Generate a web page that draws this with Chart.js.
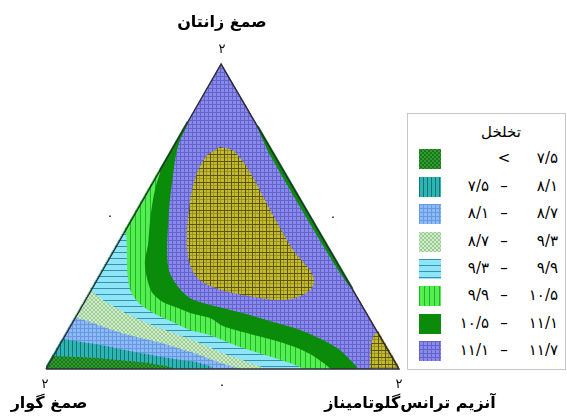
<!DOCTYPE html>
<html><head><meta charset="utf-8">
<script src="https://cdn.jsdelivr.net/npm/chart.js@4.4.1/dist/chart.umd.min.js"></script>
<style>
html,body{margin:0;padding:0;background:#fff;}
#wrap{position:relative;width:567px;height:419px;overflow:hidden;font-family:"DejaVu Sans",sans-serif;color:#000;}
#c{position:absolute;left:0;top:0;}
.lbl{position:absolute;white-space:nowrap;transform:translate(-50%,-50%);line-height:1;}
.ax{font-weight:bold;font-size:16px;}
.tk{font-size:13px;}
#legend{position:absolute;left:407px;top:113px;width:157px;height:255px;border:1px solid #c8c8c8;background:#fff;}
#legend .ttl{position:absolute;left:93px;top:18px;transform:translate(-50%,-50%);font-size:15px;white-space:nowrap;}
#legend .sw{position:absolute;left:11px;width:22px;height:20px;}
#legend .t{position:absolute;font-size:15px;white-space:nowrap;direction:ltr;unicode-bidi:isolate;line-height:1;}
</style></head>
<body>
<div id="wrap">
<canvas id="c" width="567" height="419"></canvas>
<div id="labels"></div>
<div id="legend"></div>
</div>
<script>
// ---------- data (plot units: x = % of base, y = % of height) ----------
const triangle = [[0,0],[100,0],[49.6,100]];
const levelNames = ['<7.5','7.5-8.1','8.1-8.7','8.7-9.3','9.3-9.9','9.9-10.5','10.5-11.1','11.1-11.7'];
// contour lines (left edge -> base)
const c75  = [[2.0,4.3],[9.6,3.9],[17.3,3.3],[26.6,2.3],[32.3,1.3],[36.5,0]];
const c81  = [[4.8,9.8],[9.6,8.9],[17.3,7.5],[23.8,5.9],[31.4,4.3],[38.0,3.0],[43.6,2.0],[47.9,0]];
const c87  = [[8.2,16.7],[12.5,15.4],[17.3,13.4],[23.8,11.1],[31.4,8.9],[38.0,6.6],[43.6,4.6],[47.9,2.6],[52.1,1.0],[55.0,0]];
const c93  = [[12.7,25.6],[15.3,23.3],[17.3,21.6],[21.0,19.3],[26.6,16.1],[33.7,12.8],[40.8,9.8],[43.6,8.5],[50.1,5.2],[56.4,2.6],[62.0,0.3],[63.5,0]];
const c99  = [[22.4,44.9],[22.9,40.0],[22.9,35.1],[23.2,29.8],[24.1,25.2],[26.6,21.3],[31.4,17.7],[36.5,15.1],[40.8,12.8],[46.5,11.1],[55.0,7.2],[62.0,4.6],[69.1,2.0],[72.8,0]];
const c105 = [[32.3,65.2],[31.2,60.3],[30.3,55.4],[29.5,48.9],[28.9,40.7],[28.0,35.1],[28.6,29.8],[30.0,25.2],[33.1,22.0],[37.4,20.0],[40.8,18.4],[46.5,16.7],[50.1,14.1],[57.8,11.5],[64.3,9.5],[70.5,7.2],[74.8,4.9],[78.2,2.3],[80.5,0]];
const c111 = [[40.2,81.0],[38.0,75.1],[36.8,70.2],[36.0,63.6],[35.1,55.4],[34.6,47.2],[34.3,39.0],[34.8,32.5],[37.1,27.5],[40.8,23.3],[46.5,21.0],[50.1,20.0],[57.8,17.7],[64.3,15.4],[72.0,12.8],[78.5,9.5],[83.3,6.2],[86.1,3.0],[88.4,0]];
// closed regions
const oliveBlob = [[49.3,72.8],[52.7,71.8],[55.0,69.2],[56.9,66.2],[59.5,61.0],[62.0,55.4],[64.6,49.8],[67.1,44.6],[70.0,39.0],[72.8,35.1],[75.1,31.8],[75.9,28.5],[74.8,25.9],[71.4,23.6],[67.1,22.6],[60.6,23.3],[53.0,24.9],[47.3,26.9],[43.6,29.2],[41.4,32.5],[40.2,37.4],[39.9,43.9],[40.5,52.1],[41.4,58.7],[43.1,65.2],[45.6,70.2]];
const oliveCorner = [[94.6,12.8],[103,-3],[92.2,-3],[91.8,3.6],[92.1,7.9],[92.8,11.0]];
const rightStrip = [[59.8,79.7],[60.4,77.7],[63.1,70.8],[70.0,57.0],[78.3,40.7],[82.7,32.5],[85.7,27.5],[86.8,26.4],[89,26.4],[62.5,80.5]];
// legend text
const legendTitle = 'تخلخل';
const legendLow  = ['', '۷/۵', '۸/۱', '۸/۷', '۹/۳', '۹/۹', '۱۰/۵', '۱۱/۱'];
const legendMid  = ['<', '–', '–', '–', '–', '–', '–', '–'];
const legendHigh = ['۷/۵', '۸/۱', '۸/۷', '۹/۳', '۹/۹', '۱۰/۵', '۱۱/۱', '۱۱/۷'];
const axisNames = ['صمغ زانتان', 'صمغ گوار', 'آنزیم ترانس\u200cگلوتامیناز'];
const cornerTick = '۲', midTick = '۰';

// ---------- styles ----------
const patSpecs = [
  {kind:'x', size:4, base:'#2f9c2f', line:'#1c761c'},      // <7.5
  {kind:'v', size:4, base:'#2fb4b4', line:'#127474'},      // 7.5-8.1
  {kind:'grid', size:4, base:'#8cbaf6', line:'#6a98e0'},   // 8.1-8.7
  {kind:'x', size:4, base:'#d2ecca', line:'#9ccc98'},      // 8.7-9.3
  {kind:'h', size:6, base:'#8ce6f6', line:'#3a8eb0'},      // 9.3-9.9
  {kind:'v', size:5, base:'#52ee52', line:'#22b422'},      // 9.9-10.5
  {kind:'solid', size:4, base:'#0a8c0a', line:'#0a8c0a'},  // 10.5-11.1
  {kind:'grid', size:4, base:'#8a8aee', line:'#6464c8'},   // 11.1-11.7
  {kind:'plaid', size:7, base:'#c4bc2c', line:'#5c5412', line2:'#9a9222'} // >11.7
];
const mainCtx = document.getElementById('c').getContext('2d');
function makePattern(spec, ctx){
  const s = spec.size, c = document.createElement('canvas');
  c.width = s; c.height = s;
  const g = c.getContext('2d');
  g.fillStyle = spec.base; g.fillRect(0,0,s,s);
  g.fillStyle = spec.line;
  if (spec.kind==='grid'){ g.fillRect(0,0,s,1); g.fillRect(0,0,1,s); }
  if (spec.kind==='v'){ g.fillRect(0,0,1,s); }
  if (spec.kind==='h'){ g.fillRect(0,0,s,1); }
  if (spec.kind==='x'){ for(let i=0;i<s;i++){ g.fillRect(i,i,1,1); g.fillRect(s-1-i,i,1,1);} }
  if (spec.kind==='plaid'){
    g.fillStyle = spec.line2; g.fillRect(0,3,s,1); g.fillRect(3,0,1,s);
    g.fillStyle = spec.line; g.fillRect(0,0,s,1); g.fillRect(0,0,1,s);
  }
  return ctx.createPattern(c,'repeat');
}
const pats = patSpecs.map(p => makePattern(p, mainCtx));

// ---------- regions ----------
function lowerRegion(curve){
  const s = curve[0], e = curve[curve.length-1];
  return [[-30,-10],[-30, s[1]],[s[0]-2, s[1]], ...curve, [e[0], -2], [e[0], -10]];
}
function ds(points, bg, order, tension){
  return {data: points.map(p => ({x:p[0], y:p[1]})), showLine:true, fill:'shape', tension,
    backgroundColor:bg, borderColor:'rgba(0,0,0,0)', borderWidth:0, pointRadius:0, order};
}
const datasets = [
  {data:[...triangle, triangle[0]].map(p=>({x:p[0],y:p[1]})), showLine:true, fill:false,
   borderColor:'#2d2d3a', borderWidth:1.5, pointRadius:0, order:0, clip:false, tension:0},
  ds(lowerRegion(c75),  pats[0], 1, 0.3),
  ds(lowerRegion(c81),  pats[1], 2, 0.3),
  ds(lowerRegion(c87),  pats[2], 3, 0.3),
  ds(lowerRegion(c93),  pats[3], 4, 0.3),
  ds(lowerRegion(c99),  pats[4], 5, 0.3),
  ds(lowerRegion(c105), pats[5], 6, 0.3),
  ds(lowerRegion(c111), pats[6], 7, 0.3),
  ds(rightStrip, pats[6], 8, 0),
  ds(oliveCorner, pats[8], 9, 0.2),
  ds(oliveBlob, pats[8], 10, 0.35),
  ds(triangle, pats[7], 11, 0)
];

const triClip = {
  id:'triClip',
  beforeDatasetsDraw(chart){
    const {ctx, scales:{x, y}} = chart;
    const pts = triangle.map(p => [x.getPixelForValue(p[0]), y.getPixelForValue(p[1])]);
    const cx = (pts[0][0]+pts[1][0]+pts[2][0])/3, cy = (pts[0][1]+pts[1][1]+pts[2][1])/3;
    ctx.save(); ctx.beginPath();
    pts.forEach((p,i) => { const px = cx+(p[0]-cx)*1.012, py = cy+(p[1]-cy)*1.012; if(i) ctx.lineTo(px,py); else ctx.moveTo(px,py); });
    ctx.closePath(); ctx.clip();
  },
  afterDatasetsDraw(chart){ chart.ctx.restore(); }
};

new Chart(mainCtx, {
  type:'scatter',
  data:{datasets},
  options:{
    responsive:false, animation:false, devicePixelRatio:1,
    layout:{padding:{left:46, top:64, right:168, bottom:50}},
    scales:{
      x:{type:'linear', min:0, max:100, display:false},
      y:{type:'linear', min:0, max:100, display:false}
    },
    elements:{line:{capBezierPoints:false}, point:{radius:0}},
    plugins:{legend:{display:false}, tooltip:{enabled:false}}
  },
  plugins:[triClip]
});

// ---------- text labels ----------
const labels = document.getElementById('labels');
function addLabel(text, x, y, cls, rtl){
  const d = document.createElement('div');
  d.className = 'lbl ' + cls; d.textContent = text;
  if (rtl) d.dir = 'rtl';
  d.style.left = x + 'px'; d.style.top = y + 'px';
  labels.appendChild(d);
}
addLabel(axisNames[0], 222, 22, 'ax', true);
addLabel(cornerTick, 222, 48, 'tk');
addLabel(midTick, 110, 215, 'tk');
addLabel(midTick, 333, 216, 'tk');
addLabel(midTick, 222, 384, 'tk');
addLabel(cornerTick, 45, 383, 'tk');
addLabel(cornerTick, 399, 383, 'tk');
addLabel(axisNames[1], 49, 403, 'ax', true);
addLabel(axisNames[2], 410, 403, 'ax', true);

// ---------- legend ----------
const lg = document.getElementById('legend');
const tt = document.createElement('div'); tt.className='ttl'; tt.textContent = legendTitle; tt.dir='rtl'; lg.appendChild(tt);
const rowY = [45, 73, 100, 128, 155, 182, 210, 237];
legendHigh.forEach((hi, i) => {
  const sw = document.createElement('canvas'); sw.className='sw'; sw.width=22; sw.height=20;
  sw.style.top = (rowY[i]-10) + 'px';
  const g = sw.getContext('2d'); g.fillStyle = makePattern(patSpecs[i], g); g.fillRect(0,0,22,20);
  lg.appendChild(sw);
  const mk = (txt, css) => { const d=document.createElement('div'); d.className='t'; d.textContent=txt; Object.assign(d.style, css); lg.appendChild(d); return d; };
  mk(legendLow[i], {right:(157-81)+'px', top:(rowY[i]-8)+'px'});
  mk(legendMid[i], {left:'96px', top:(rowY[i]-8)+'px', transform:'translateX(-50%)'});
  mk(hi, {right:(157-150)+'px', top:(rowY[i]-8)+'px'});
});
</script>
</body></html>
